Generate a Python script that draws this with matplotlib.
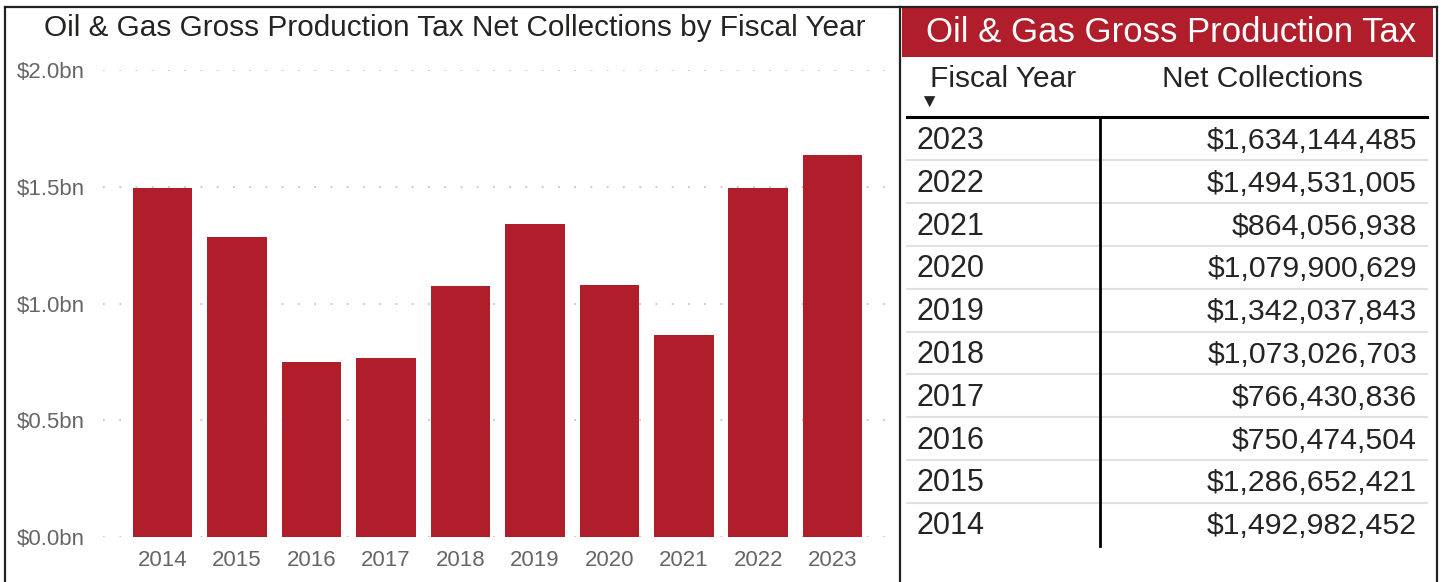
'''Oil & gas gross production tax: bar chart plus collections table'''

import matplotlib.pyplot as plt
from matplotlib.lines import Line2D
from matplotlib.patches import Rectangle

plt.rcParams['font.family'] = ['Liberation Sans', 'DejaVu Sans']

years = ['2014', '2015', '2016', '2017', '2018', '2019', '2020', '2021', '2022', '2023']
net_collections = [1492982452, 1286652421, 750474504, 766430836, 1073026703,
                   1342037843, 1079900629, 864056938, 1494531005, 1634144485]
y_ticks = [0.0, 0.5, 1.0, 1.5, 2.0]

RED = '#B01E2B'
GRAY_TEXT = '#666666'
DARK_TEXT = '#252423'

W, H = 1444, 582
fig = plt.figure(figsize=(W / 100, H / 100), dpi=100)


def px(x, y):
    '''pixel coords (top-left origin) -> figure fraction'''
    return x / W, 1 - y / H


# --- bar chart ---
left, right, top, bottom = 103, 890, 70, 537
ax = fig.add_axes([left / W, 1 - bottom / H, (right - left) / W, (bottom - top) / H])
values_bn = [v / 1e9 for v in net_collections]
ax.bar(range(len(years)), values_bn, width=0.8, color=RED, zorder=2)
ax.set_xlim(-0.8, 9.77)
ax.set_ylim(0, 2.0)
ax.set_yticks(y_ticks)
ax.set_yticklabels([f'${t:.1f}bn' for t in y_ticks])
ax.set_xticks(range(len(years)))
ax.set_xticklabels(years)
ax.tick_params(axis='both', length=0, labelsize=16, labelcolor=GRAY_TEXT)
ax.tick_params(axis='y', pad=13)
ax.tick_params(axis='x', pad=9)
for t in y_ticks:
    ax.axhline(t, color='#c4c4c4', lw=1.3, ls=(0, (1, 8)), zorder=1)
for s in ax.spines.values():
    s.set_visible(False)

fig.text(*px(455, 28), 'Oil & Gas Gross Production Tax Net Collections by Fiscal Year',
         ha='center', va='center', fontsize=21.4, color=DARK_TEXT)

# panel borders
border = dict(color='#222222', lw=1.6, transform=fig.transFigure)
fig.add_artist(Line2D([5 / W, 5 / W], [0, 1 - 7 / H], **border))
fig.add_artist(Line2D([5 / W, 900 / W], [1 - 7 / H, 1 - 7 / H], **border))
fig.add_artist(Line2D([900 / W, 900 / W], [0, 1 - 7 / H], **border))
fig.add_artist(Line2D([901 / W, 1437 / W], [1 - 7 / H, 1 - 7 / H], **border))
fig.add_artist(Line2D([1437 / W, 1437 / W], [0, 1 - 7 / H], **border))

# --- table ---
fig.add_artist(Rectangle(px(902, 57), 531 / W, 49 / H, transform=fig.transFigure,
                         color=RED, lw=0))
fig.text(*px(1171, 32), 'Oil & Gas Gross Production Tax', ha='center', va='center',
         fontsize=25, color='white')
fig.text(*px(930, 79), 'Fiscal Year', ha='left', va='center', fontsize=21.5,
         color=DARK_TEXT)
fig.text(*px(1262, 79), 'Net Collections', ha='center', va='center', fontsize=21.5,
         color=DARK_TEXT)
fig.text(*px(929, 103), '\u25bc', ha='center', va='center', fontsize=14, color=DARK_TEXT)

fig.add_artist(Line2D([907 / W, 1427 / W], [1 - 117 / H] * 2, color='black', lw=2.2,
                      transform=fig.transFigure))
fig.add_artist(Line2D([1100 / W, 1100 / W], [1 - 117 / H, 1 - 546 / H], color='black',
                      lw=2, transform=fig.transFigure))

row_h = 42.8
for i, (yr, val) in enumerate(zip(years[::-1], net_collections[::-1])):
    yc = 139 + i * row_h
    fig.text(*px(917, yc + 2), yr, ha='left', va='center', fontsize=22, color=DARK_TEXT)
    fig.text(*px(1417, yc + 2), f'${val:,}', ha='right', va='center', fontsize=21.8,
             color=DARK_TEXT)
    if i < len(years) - 1:
        ys = 1 - (yc + row_h / 2) / H
        fig.add_artist(Line2D([907 / W, 1427 / W], [ys, ys], color='#e1e1e1', lw=1.5,
                              transform=fig.transFigure, zorder=0))

fig.savefig('out.png', dpi=100)
